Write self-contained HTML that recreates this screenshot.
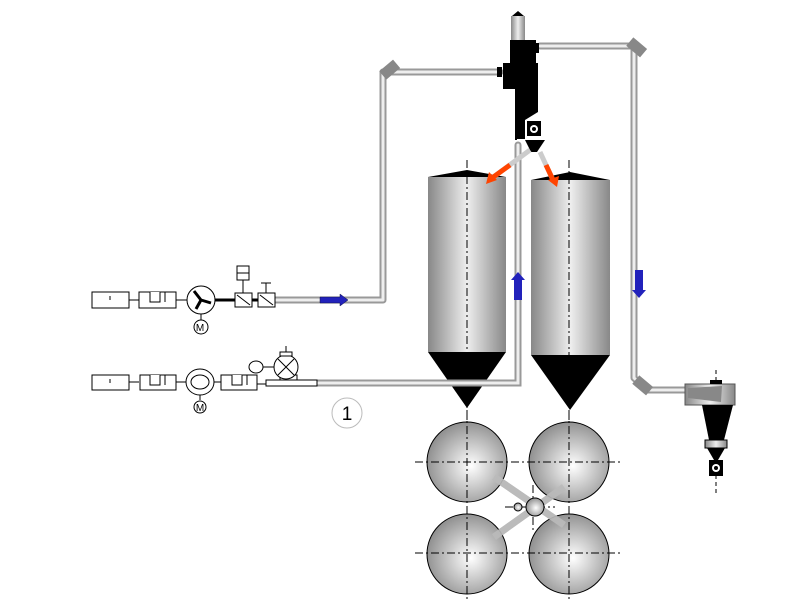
<!DOCTYPE html><html><head><style>body{margin:0;background:#fff}svg{display:block}</style></head><body>
<svg width="800" height="600" viewBox="0 0 800 600" xmlns="http://www.w3.org/2000/svg" font-family="Liberation Sans, sans-serif">
<defs>
<linearGradient id="cyl" x1="0" x2="1"><stop offset="0" stop-color="#888"/><stop offset=".25" stop-color="#bbb"/><stop offset=".5" stop-color="#eee"/><stop offset=".75" stop-color="#bbb"/><stop offset="1" stop-color="#888"/></linearGradient>
<radialGradient id="sph" cx=".55" cy=".55" r=".6"><stop offset="0" stop-color="#fff"/><stop offset="1" stop-color="#888"/></radialGradient>
</defs>
<g fill="none" stroke-linecap="round" stroke-linejoin="round">
<path d="M275 300 H383 V72 H500" stroke="#999" stroke-width="7"/>
<path d="M275 300 H383 V72 H500" stroke="#eee" stroke-width="3"/>
<path d="M290 383 H518 V145" stroke="#999" stroke-width="7"/>
<path d="M290 383 H518 V145" stroke="#eee" stroke-width="3"/>
<path d="M540 46 H634 V378 L648 390 H688" stroke="#999" stroke-width="7"/>
<path d="M540 46 H634 V378 L648 390 H688" stroke="#eee" stroke-width="3"/>
</g>
<rect x="381" y="64" width="18" height="11" fill="#888" transform="rotate(-40 390 70)"/>
<rect x="628" y="42" width="18" height="11" fill="#888" transform="rotate(40 637 47)"/>
<rect x="634" y="380" width="18" height="11" fill="#888" transform="rotate(40 643 385)"/>
<!-- silos -->
<g stroke="#000" stroke-dasharray="8,3,2,3" stroke-width="1">
<line x1="467" y1="160" x2="467" y2="420"/><line x1="569" y1="160" x2="569" y2="420"/>
</g>
<path d="M428 177 L467 170 L506 177Z" fill="#000"/>
<rect x="428" y="177" width="78" height="175" fill="url(#cyl)"/>
<path d="M428 352 H506 L467 408Z" fill="#000"/>
<path d="M531 180 L570 172 L610 180Z" fill="#000"/>
<rect x="531" y="180" width="79" height="175" fill="url(#cyl)"/>
<path d="M531 355 H610 L570 410Z" fill="#000"/>
<line x1="467" y1="160" x2="467" y2="352" stroke="#000" stroke-dasharray="8,3,2,3"/>
<line x1="569" y1="160" x2="569" y2="355" stroke="#000" stroke-dasharray="8,3,2,3"/>
<path d="M290 383 H518 V145" fill="none" stroke="#999" stroke-width="7"/>
<path d="M290 383 H518 V145" fill="none" stroke="#eee" stroke-width="3"/>
<!-- top cyclone -->
<path d="M512 16 L518 11 L524 16Z" fill="#000"/>
<rect x="511" y="16" width="14" height="26" fill="url(#cyl)"/>
<rect x="510" y="40" width="26" height="25" fill="#000"/>
<rect x="534" y="43" width="5" height="10" fill="#000"/>
<rect x="503" y="63" width="35" height="26" fill="#000"/>
<rect x="497" y="67" width="5" height="10" fill="#000"/>
<path d="M503 89 H538 V112 L525 120 H517 V140 H515 V89Z" fill="#000"/>
<rect x="515" y="89" width="10" height="50" fill="#000"/>
<rect x="527" y="121" width="14" height="15" fill="#000"/><circle cx="534" cy="129" r="4" fill="#fff"/><circle cx="534" cy="129" r="2" fill="#000"/>
<path d="M525 140 H545 L537 152 H531Z" fill="#000"/>
<line x1="530" y1="150" x2="492" y2="178" stroke="#ccc" stroke-width="5"/>
<line x1="510" y1="165" x2="492" y2="178" stroke="#f40" stroke-width="5"/>
<path d="M486 184 L489 172 L497 180Z" fill="#f40"/>
<line x1="540" y1="152" x2="553" y2="180" stroke="#ccc" stroke-width="5"/>
<line x1="546" y1="165" x2="553" y2="180" stroke="#f40" stroke-width="5"/>
<path d="M557 187 L548 180 L559 176Z" fill="#f40"/>
<!-- arrows -->
<path d="M320 297 H340 V294 L348 300 L340 306 V303 H320Z" fill="#2222bb" stroke="#114" stroke-width=".5"/>
<path d="M514 300 V280 H511 L518 272 L525 280 H522 V300Z" fill="#2222bb"/>
<path d="M635 270 V290 H632 L639 298 L646 290 H643 V270Z" fill="#2222bb"/>
<!-- spheres -->
<g stroke="#000" stroke-width="1" stroke-dasharray="8,3,2,3">
<line x1="415" y1="462" x2="620" y2="462"/><line x1="415" y1="553" x2="620" y2="553"/>
</g>
<line x1="494" y1="477" x2="564" y2="525" stroke="#bbb" stroke-width="7"/>
<line x1="494" y1="537" x2="564" y2="487" stroke="#bbb" stroke-width="7"/>
<g stroke="#000" fill="url(#sph)">
<circle cx="467" cy="462" r="40"/><circle cx="569" cy="462" r="40"/>
<circle cx="467" cy="554" r="40"/><circle cx="569" cy="554" r="40"/>
</g>
<line x1="494" y1="477" x2="564" y2="525" stroke="#bbb" stroke-width="7" opacity=".9"/>
<line x1="494" y1="537" x2="564" y2="487" stroke="#bbb" stroke-width="7" opacity=".9"/>
<g stroke="#000" stroke-width="1" stroke-dasharray="8,3,2,3">
<line x1="415" y1="462" x2="620" y2="462"/><line x1="415" y1="553" x2="620" y2="553"/>
<line x1="467" y1="410" x2="467" y2="600"/><line x1="569" y1="410" x2="569" y2="600"/>
<line x1="505" y1="507" x2="555" y2="507"/><line x1="533" y1="485" x2="533" y2="530"/>
</g>
<circle cx="535" cy="507" r="9" fill="url(#sph)" stroke="#000"/>
<circle cx="518" cy="507" r="4" fill="url(#sph)" stroke="#000"/>
<!-- right cyclone -->
<line x1="716" y1="370" x2="716" y2="495" stroke="#000" stroke-dasharray="4,3"/>
<path d="M685 384 H735 V405 H685Z" fill="url(#cyl)" stroke="#555"/>
<path d="M688 388 L722 386 L721 402 L688 398Z" fill="#888"/>
<path d="M710 380 h12 v4 h-12z" fill="#000"/>
<path d="M702 405 H733 L724 440 H709Z" fill="#000"/>
<rect x="705" y="440" width="22" height="8" fill="url(#cyl)" stroke="#000"/>
<path d="M707 448 H725 L718 460 H714Z" fill="#000"/>
<rect x="709" y="460" width="14" height="16" fill="#000"/><circle cx="716" cy="468" r="4" fill="#fff"/><circle cx="716" cy="468" r="2" fill="#000"/>
<!-- upper line -->
<g stroke="#000" fill="#fff" stroke-width="1">
<rect x="92" y="292" width="37" height="16"/><line x1="110" y1="296" x2="110" y2="300"/>
<line x1="129" y1="300" x2="139" y2="300"/>
<rect x="139" y="292" width="37" height="16"/><path d="M150 292v10h10v-10M165 292v10"/>
<line x1="176" y1="300" x2="187" y2="300"/>
<circle cx="201" cy="300" r="14"/>
<path d="M201 300 L194 291 M201 300 L211 303 M201 300 L196 309" stroke-width="3"/>
<line x1="201" y1="314" x2="201" y2="320"/><circle cx="201" cy="327" r="7"/>
<line x1="215" y1="300" x2="235" y2="300" stroke-width="3"/>
<rect x="235" y="293" width="17" height="14"/><line x1="237" y1="295" x2="250" y2="305"/>
<rect x="237" y="266" width="12" height="14"/><line x1="243" y1="280" x2="243" y2="293"/><line x1="237" y1="273" x2="249" y2="273"/>
<line x1="252" y1="300" x2="258" y2="300" stroke-width="3"/>
<rect x="258" y="293" width="17" height="14"/><line x1="260" y1="295" x2="273" y2="305"/>
<line x1="266" y1="283" x2="266" y2="293"/><line x1="261" y1="283" x2="271" y2="283"/>
<!-- lower line -->
<rect x="92" y="375" width="37" height="15"/><line x1="110" y1="379" x2="110" y2="383"/>
<line x1="129" y1="382" x2="139" y2="382"/>
<rect x="140" y="375" width="36" height="15"/><path d="M150 375v10h10v-10M165 375v10"/>
<line x1="176" y1="382" x2="186" y2="382"/>
<ellipse cx="200" cy="382" rx="14" ry="13"/><ellipse cx="200" cy="382" rx="9" ry="7"/>
<line x1="200" y1="395" x2="200" y2="400"/><circle cx="200" cy="407" r="6"/>
<line x1="214" y1="382" x2="221" y2="382"/>
<rect x="221" y="375" width="36" height="15"/><path d="M232 375v10h10v-10M247 375v10"/>
<line x1="257" y1="384" x2="266" y2="384"/>
<path d="M266 386 h51 v-6 h-51z"/>
<rect x="280" y="375" width="17" height="5"/>
<circle cx="286" cy="367" r="12"/><path d="M278 359 L294 375 M294 359 L278 375"/>
<rect x="280" y="352" width="12" height="4"/><line x1="286" y1="346" x2="286" y2="352"/>
<line x1="263" y1="367" x2="274" y2="367"/><ellipse cx="256" cy="367" rx="7" ry="6"/>
</g>
<text x="200" y="331" font-size="10" text-anchor="middle">M</text>
<text x="200" y="411" font-size="10" text-anchor="middle">M</text>
<circle cx="347" cy="413" r="15" fill="#fff" stroke="#bbb"/>
<text x="347" y="420" font-size="19" text-anchor="middle">1</text>
</svg></body></html>
